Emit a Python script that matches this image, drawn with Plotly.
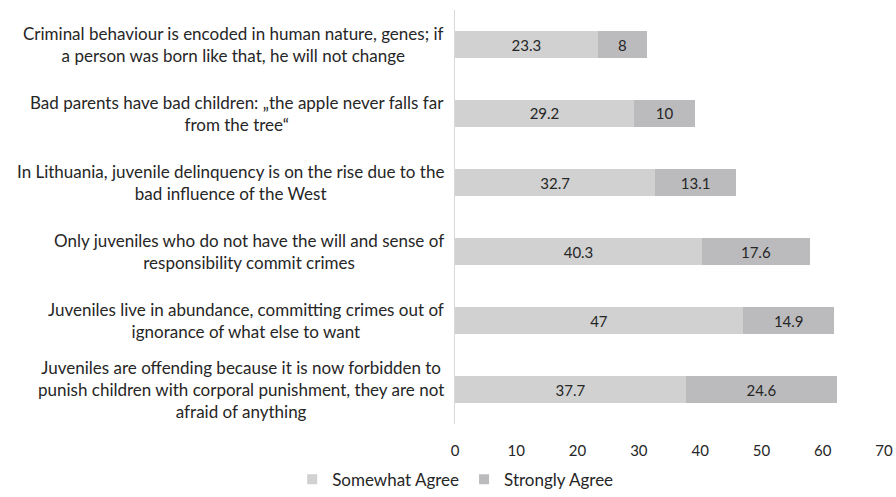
import plotly.graph_objects as go

categories = [
    "Criminal behaviour is encoded in human nature, genes; if<br>a person was born like that, he will not change",
    "Bad parents have bad children: „the apple never falls far<br>from the tree“",
    "In Lithuania, juvenile delinquency is on the rise due to the<br>bad influence of the West",
    "Only juveniles who do not have the will and sense of<br>responsibility commit crimes",
    "Juveniles live in abundance, committing crimes out of<br>ignorance of what else to want",
    "Juveniles are offending because it is now forbidden to<br>punish children with corporal punishment, they are not<br>afraid of anything",
]
somewhat_agree = [23.3, 29.2, 32.7, 40.3, 47, 37.7]
strongly_agree = [8, 10, 13.1, 17.6, 14.9, 24.6]
series_names = ["Somewhat Agree", "Strongly Agree"]
series_colors = ["#D0D1D0", "#BBBBBD"]
x_ticks = [0, 10, 20, 30, 40, 50, 60, 70]

FONT = "Lato, Open Sans, sans-serif"
TEXT = "#262626"
FS = 17      # category labels and legend
NUM_FS = 15  # bar values and tick labels

fig = go.Figure()
for name, vals, color in zip(series_names, [somewhat_agree, strongly_agree], series_colors):
    fig.add_trace(go.Bar(
        y=categories, x=vals, name=name, orientation="h",
        marker=dict(color=color, line=dict(width=0)),
        text=[f"{v:g}" for v in vals], textposition="inside",
        insidetextanchor="middle", textangle=0,
        textfont=dict(family=FONT, size=NUM_FS, color=TEXT),
        constraintext="none", showlegend=False,
    ))

# small square legend keys
for name, color in zip(series_names, series_colors):
    fig.add_trace(go.Scatter(
        x=[None], y=[None], mode="markers", name=name,
        marker=dict(symbol="square", size=10, color=color, line=dict(width=0)),
        showlegend=True,
    ))

for cat in categories:
    fig.add_annotation(
        x=-0.021, xref="paper", y=cat, yref="y",
        text=cat, showarrow=False, xanchor="right", yanchor="middle",
        align="center", font=dict(family=FONT, size=FS, color=TEXT),
    )

fig.update_layout(
    barmode="stack", bargap=0.61,
    width=896, height=497,
    margin=dict(l=455, r=12, t=10, b=73, autoexpand=False),
    paper_bgcolor="white", plot_bgcolor="white",
    font=dict(family=FONT, size=FS, color=TEXT),
    legend=dict(orientation="h", x=0.508, xref="container", xanchor="center",
                y=0.035, yref="container", yanchor="middle",
                font=dict(family=FONT, size=FS, color=TEXT),
                itemwidth=30, traceorder="normal"),
    xaxis=dict(range=[0, 70], tickvals=x_ticks, showgrid=False, zeroline=False,
               showline=False, ticks="", ticklabelstandoff=16, automargin=False,
               tickfont=dict(family=FONT, size=NUM_FS, color=TEXT)),
    yaxis=dict(autorange="reversed", showticklabels=False, showgrid=False,
               zeroline=False, showline=True, linecolor="#D9D9D9", linewidth=1,
               ticks="", automargin=False),
)

fig.write_html("out.html")
